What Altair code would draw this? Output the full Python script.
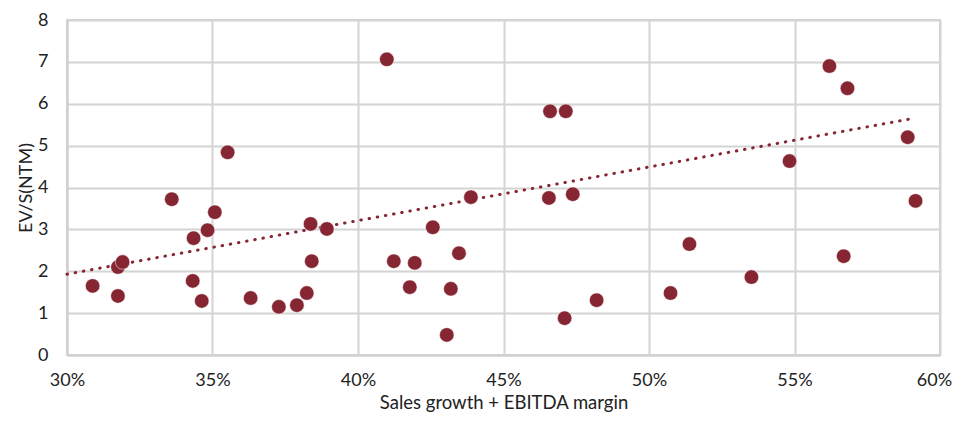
import altair as alt
import pandas as pd

# Sales growth + EBITDA margin (%)
growth_margin = [30.88, 31.75, 31.75, 31.91, 33.60, 34.35, 34.32, 34.63, 34.83, 35.08,
                 35.52, 36.31, 37.28, 37.90, 38.24, 38.37, 38.41, 38.93, 40.99, 41.23,
                 41.78, 41.95, 42.57, 43.19, 43.05, 43.47, 43.88, 46.60, 47.14, 46.56,
                 47.38, 47.10, 48.20, 50.74, 51.39, 53.52, 54.83, 56.20, 56.82, 56.69,
                 58.89, 59.16]
# EV/S (NTM)
ev_sales = [1.65, 1.41, 2.10, 2.22, 3.72, 2.79, 1.77, 1.29, 2.98, 3.41,
            4.84, 1.36, 1.15, 1.19, 1.48, 3.13, 2.24, 3.01, 7.06, 2.24,
            1.62, 2.20, 3.05, 1.58, 0.48, 2.43, 3.77, 5.82, 5.82, 3.75,
            3.84, 0.88, 1.31, 1.48, 2.65, 1.86, 4.63, 6.90, 6.37, 2.36,
            5.20, 3.68]

# Linear trendline as drawn in the reference (start and end values)
trend_x = [30.0, 59.15]
trend_y = [1.93, 5.66]

x_ticks = [30, 35, 40, 45, 50, 55, 60]
y_ticks = [0, 1, 2, 3, 4, 5, 6, 7, 8]

df = pd.DataFrame({"x": [v / 100 for v in growth_margin], "y": ev_sales})
df_trend = pd.DataFrame({"x": [v / 100 for v in trend_x], "y": trend_y})

color = "#862633"
font = "Lato"

x_enc = alt.X("x:Q",
              scale=alt.Scale(domain=[0.30, 0.60], nice=False, zero=False),
              axis=alt.Axis(values=[t / 100 for t in x_ticks], format=".0%",
                            title="Sales growth + EBITDA margin",
                            titleFontSize=18.5, titleFontWeight="normal", titleColor="#222",
                            titleFont=font, titlePadding=4,
                            labelFont=font, labelFontSize=18, labelColor="#222",
                            labelPadding=16, labelFlush=False, labelOverlap=False,
                            labelBound=False,
                            labelOffset={"condition": {"test": "datum.value >= 0.595", "value": -6},
                                         "value": 0},
                            tickSize=0, domain=True,
                            domainColor="#cfcfcf", domainWidth=2,
                            grid=True, gridColor="#d4d4d4", gridWidth=2))
y_enc = alt.Y("y:Q",
              scale=alt.Scale(domain=[0, 8], nice=False),
              axis=alt.Axis(values=y_ticks, format="d",
                            title="EV/S(NTM)",
                            titleFontSize=18, titleFontWeight="normal", titleColor="#222",
                            titleFont=font, titlePadding=2,
                            labelFont=font, labelFontSize=18, labelColor="#222",
                            labelPadding=19, labelFlush=False, tickSize=0, domain=True,
                            domainColor="#cfcfcf", domainWidth=2,
                            grid=True, gridColor="#d4d4d4", gridWidth=2))

points = alt.Chart(df).mark_circle(size=210, color=color, opacity=1,
                                   stroke="white", strokeWidth=0.5).encode(x=x_enc, y=y_enc)

trend = alt.Chart(df_trend).mark_line(
    color=color, strokeWidth=3, strokeDash=[0.5, 7.8], strokeCap="round"
).encode(x="x:Q", y="y:Q")

chart = (trend + points).properties(
    width=873, height=335,
    autosize=alt.AutoSizeParams(type="none"),
    padding={"left": 59, "top": 12, "right": 12, "bottom": 60},
).configure_view(stroke="#d4d4d4", strokeWidth=2)

chart.save("out.html", embed_options={"renderer": "svg", "actions": False})
